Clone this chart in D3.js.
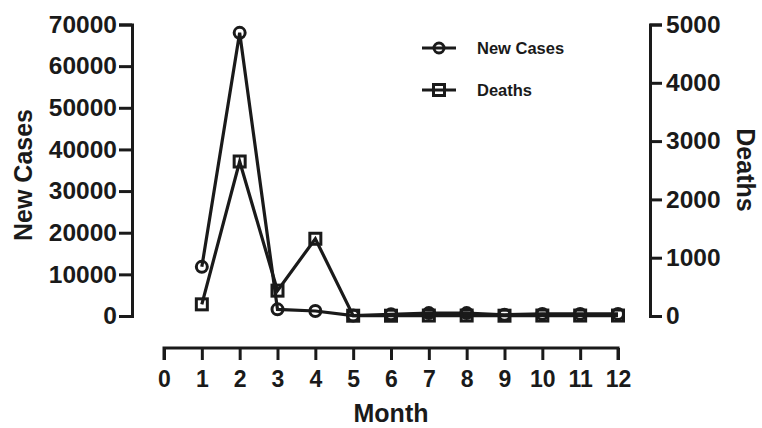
<!DOCTYPE html>
<html>
<head>
<meta charset="utf-8">
<script src="https://cdn.jsdelivr.net/npm/d3@7"></script>
<style>
body{margin:0;background:#fff;}
text{font-family:"Liberation Sans",Arial,Helvetica,sans-serif;font-weight:bold;fill:#1a1a1a;}
</style>
</head>
<body>
<svg id="chart" width="762" height="428"></svg>
<script>
const months = [1,2,3,4,5,6,7,8,9,10,11,12];
const newCases = [11800,68000,1600,1200,100,400,700,700,300,500,500,500];
const deaths = [200,2650,435,1325,5,5,8,8,5,8,8,8];
const xTicks = [0,1,2,3,4,5,6,7,8,9,10,11,12];
const leftTicks = [0,10000,20000,30000,40000,50000,60000,70000];
const rightTicks = [0,1000,2000,3000,4000,5000];

const svg = d3.select("#chart");
const ink = "#1a1a1a";
const x = d3.scaleLinear().domain([0,12]).range([164,618]);
const yL = d3.scaleLinear().domain([0,70000]).range([316,24.5]);
const yR = d3.scaleLinear().domain([0,5000]).range([316,24.5]);

function styleAxis(g, fs){
  g.select(".domain").attr("stroke",ink).attr("stroke-width",3);
  g.selectAll(".tick line").attr("stroke",ink).attr("stroke-width",3);
  g.selectAll(".tick text").attr("font-size",fs).attr("fill",ink)
   .style("font-family","'Liberation Sans',Arial,sans-serif").style("font-weight","bold");
}

// left axis
const gL = svg.append("g").attr("transform","translate(132,0)")
  .call(d3.axisLeft(yL).tickValues(leftTicks).tickFormat(d3.format("d")).tickSize(13).tickSizeOuter(13).tickPadding(2));
styleAxis(gL, 24.5);
// right axis
const gR = svg.append("g").attr("transform","translate(650,0)")
  .call(d3.axisRight(yR).tickValues(rightTicks).tickFormat(d3.format("d")).tickSize(12).tickSizeOuter(12).tickPadding(4));
styleAxis(gR, 24.5);
// bottom axis
const gX = svg.append("g").attr("transform","translate(0,348)")
  .call(d3.axisBottom(x).tickValues(xTicks).tickFormat(d3.format("d")).tickSize(12).tickSizeOuter(12).tickPadding(11));
styleAxis(gX, 23);
gX.select(".domain").attr("d", `M${x(0)},12V0H${x(12)}V12`);

// titles
svg.append("text").attr("transform","translate(32,175) rotate(-90)").attr("text-anchor","middle")
  .attr("font-size",25).text("New Cases");
svg.append("text").attr("transform","translate(737,170) rotate(90)").attr("text-anchor","middle")
  .attr("font-size",25).text("Deaths");
svg.append("text").attr("x",391).attr("y",422).attr("text-anchor","middle")
  .attr("font-size",25).text("Month");

// lines
const lineL = d3.line().x((d,i)=>x(months[i])).y(d=>yL(d));
const lineR = d3.line().x((d,i)=>x(months[i])).y(d=>yR(d));
svg.append("path").attr("d",lineR(deaths)).attr("fill","none").attr("stroke",ink).attr("stroke-width",3.2).attr("stroke-linejoin","miter");
svg.append("path").attr("d",lineL(newCases)).attr("fill","none").attr("stroke",ink).attr("stroke-width",3.2).attr("stroke-linejoin","miter");

svg.selectAll(".sq").data(deaths).enter().append("rect")
  .attr("x",(d,i)=>x(months[i])-5.5).attr("y",d=>yR(d)-5.5).attr("width",11).attr("height",11)
  .attr("fill","none").attr("stroke",ink).attr("stroke-width",3);
svg.selectAll(".ci").data(newCases).enter().append("circle")
  .attr("cx",(d,i)=>x(months[i])).attr("cy",d=>yL(d)).attr("r",5.5)
  .attr("fill","none").attr("stroke",ink).attr("stroke-width",3);

// legend
const leg = svg.append("g");
const legItems = [{name:"New Cases",shape:"circle",y:48},{name:"Deaths",shape:"square",y:90}];
legItems.forEach(it=>{
  leg.append("line").attr("x1",422).attr("x2",456).attr("y1",it.y).attr("y2",it.y).attr("stroke",ink).attr("stroke-width",3);
  if(it.shape==="circle"){
    leg.append("circle").attr("cx",439).attr("cy",it.y).attr("r",5).attr("fill","none").attr("stroke",ink).attr("stroke-width",3);
  } else {
    leg.append("rect").attr("x",433.5).attr("y",it.y-5.5).attr("width",11).attr("height",11).attr("fill","none").attr("stroke",ink).attr("stroke-width",3);
  }
  leg.append("text").attr("x",477).attr("y",it.y+6).attr("font-size",16.5).text(it.name);
});
</script>
</body>
</html>
